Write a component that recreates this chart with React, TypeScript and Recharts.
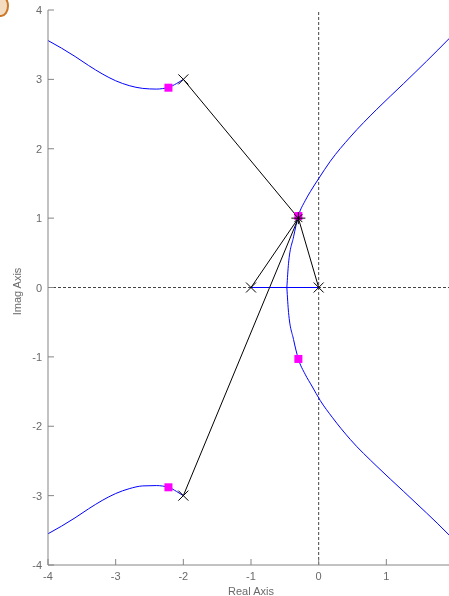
import React from 'react';
import { ComposedChart, Line, Scatter, XAxis, YAxis, ReferenceLine } from 'recharts';

const xTicks = [-4, -3, -2, -1, 0, 1];
const yTicks = [-4, -3, -2, -1, 0, 1, 2, 3, 4];

const upperLeftBranch = [
  { x: -4.0, y: 3.56 }, { x: -3.8, y: 3.45 }, { x: -3.6, y: 3.33 }, { x: -3.4, y: 3.2 },
  { x: -3.2, y: 3.08 }, { x: -3.0, y: 2.98 }, { x: -2.8, y: 2.91 }, { x: -2.6, y: 2.87 },
  { x: -2.4, y: 2.86 }, { x: -2.22, y: 2.885 }, { x: -2.1, y: 2.94 }, { x: -2.0, y: 3.0 },
];
const lowerLeftBranch = [
  { x: -4.0, y: -3.55 }, { x: -3.8, y: -3.44 }, { x: -3.6, y: -3.32 }, { x: -3.4, y: -3.19 },
  { x: -3.2, y: -3.07 }, { x: -3.0, y: -2.97 }, { x: -2.8, y: -2.9 }, { x: -2.6, y: -2.86 },
  { x: -2.4, y: -2.855 }, { x: -2.22, y: -2.88 }, { x: -2.1, y: -2.94 }, { x: -2.0, y: -3.0 },
];
const upperRightBranch = [
  { x: -0.47, y: 0 }, { x: -0.445, y: 0.35 }, { x: -0.371, y: 0.73 }, { x: -0.3, y: 1.03 },
  { x: -0.2, y: 1.25 }, { x: -0.124, y: 1.38 }, { x: 0, y: 1.57 }, { x: 0.172, y: 1.82 },
  { x: 0.467, y: 2.17 }, { x: 0.86, y: 2.57 }, { x: 1.256, y: 2.94 }, { x: 1.93, y: 3.59 },
  { x: 2.0, y: 3.66 },
];
const lowerRightBranch = [
  { x: -0.47, y: 0 }, { x: -0.445, y: -0.36 }, { x: -0.371, y: -0.75 }, { x: -0.3, y: -1.03 },
  { x: -0.2, y: -1.25 }, { x: -0.1, y: -1.42 }, { x: 0.024, y: -1.63 }, { x: 0.2, y: -1.87 },
  { x: 0.467, y: -2.19 }, { x: 0.862, y: -2.58 }, { x: 1.256, y: -2.94 }, { x: 1.93, y: -3.57 },
  { x: 2.0, y: -3.64 },
];
const realSegment = [{ x: -1, y: 0 }, { x: 0, y: 0 }];

const testPoint = { x: -0.3, y: 1.0 };
const poles = [{ x: -2, y: 3 }, { x: -2, y: -3 }, { x: -1, y: 0 }, { x: 0, y: 0 }];
const gainPoints = [{ x: -2.22, y: 2.88 }, { x: -2.22, y: -2.88 }, { x: -0.3, y: 1.03 }, { x: -0.3, y: -1.03 }];

const vectors = poles.map((p) => [p, testPoint]);

const AXIS = '#858585';
const TEXT = '#6a6a6a';
const FONT = '"Liberation Sans", Arial, sans-serif';

const Empty = () => <g />;

const XMark = (props: any) => {
  const { cx, cy } = props;
  const s = 5;
  return (
    <g stroke="#000" strokeWidth={1}>
      <line x1={cx - s} y1={cy + s} x2={cx + s} y2={cy - s} />
      <line x1={cx - s} y1={cy - s} x2={cx + s} y2={cy + s} />
    </g>
  );
};

const StarMark = (props: any) => {
  const { cx, cy } = props;
  const s = 6;
  return (
    <g stroke="#000" strokeWidth={1}>
      <line x1={cx - s - 1} y1={cy} x2={cx + s + 1} y2={cy} />
      <line x1={cx} y1={cy - s} x2={cx} y2={cy + s} />
      <line x1={cx - 4} y1={cy - 4} x2={cx + 4} y2={cy + 4} />
      <line x1={cx - 4} y1={cy + 4} x2={cx + 4} y2={cy - 4} />
    </g>
  );
};

const SquareMark = (props: any) => {
  const { cx, cy } = props;
  return <rect x={cx - 4} y={cy - 4} width={8} height={8} fill="#ff00ff" />;
};

const BottomTick = (props: any) => {
  const { x, y, payload } = props;
  return (
    <g>
      <line x1={x} y1={y} x2={x} y2={y - 6} stroke={AXIS} />
      <text x={x} y={y + 15} textAnchor="middle" fill={TEXT} fontSize={11} fontFamily={FONT}>
        {payload.value}
      </text>
    </g>
  );
};
const TopTick = (props: any) => {
  const { x, y } = props;
  return <line x1={x} y1={y} x2={x} y2={y + 6} stroke={AXIS} />;
};
const LeftTick = (props: any) => {
  const { x, y, payload } = props;
  return (
    <g>
      <line x1={x} y1={y} x2={x + 6} y2={y} stroke={AXIS} />
      <text x={x - 6} y={y + 4} textAnchor="end" fill={TEXT} fontSize={11} fontFamily={FONT}>
        {payload.value}
      </text>
    </g>
  );
};
const RightTick = (props: any) => {
  const { x, y } = props;
  return <line x1={x} y1={y} x2={x - 6} y2={y} stroke={AXIS} />;
};

const XLabel = (props: any) => {
  const vb = props.viewBox;
  return (
    <text x={vb.x + vb.width / 2} y={vb.y + 30} textAnchor="middle" fill={TEXT} fontSize={11} fontFamily={FONT}>
      Real Axis
    </text>
  );
};
const YLabel = (props: any) => {
  const vb = props.viewBox;
  const cx = 10;
  const cy = vb.y + vb.height / 2 + 4;
  return (
    <text x={cx} y={cy} textAnchor="middle" dominantBaseline="middle" transform={`rotate(-90 ${cx} ${cy})`} fill={TEXT} fontSize={11} fontFamily={FONT}>
      Imag Axis
    </text>
  );
};

export default function App() {
  return (
    <div style={{ position: 'fixed', left: 8, top: 8, width: 460, height: 588 }}>
      <style>{`html{overflow:hidden;} .recharts-surface{overflow:visible;}`}</style>
      <div style={{ position: 'fixed', left: -7, top: -5, width: 12, height: 18, borderRadius: '50%', border: '2px solid #c9782a', background: '#f3dcc0' }} />
      <ComposedChart width={460} height={588} margin={{ top: 2, right: 14, left: 0, bottom: 0 }}>
        <XAxis xAxisId={0} type="number" dataKey="x" domain={[-4, 2]} ticks={xTicks} allowDataOverflow
          height={31} stroke={AXIS} tickLine={false} tickSize={0} tickMargin={0} tick={<BottomTick />}
          interval={0} label={<XLabel />} />
        <XAxis xAxisId="top" orientation="top" type="number" dataKey="x" domain={[-4, 2]} ticks={xTicks} allowDataOverflow
          height={0} stroke={AXIS} tickLine={false} tickSize={0} tickMargin={0} tick={<TopTick />} interval={0} />
        <YAxis yAxisId={0} type="number" dataKey="y" domain={[-4, 4]} ticks={yTicks} allowDataOverflow
          width={40} stroke={AXIS} tickLine={false} tickSize={0} tickMargin={0} tick={<LeftTick />}
          interval={0} label={<YLabel />} />
        <YAxis yAxisId="right" orientation="right" type="number" dataKey="y" domain={[-4, 4]} ticks={yTicks} allowDataOverflow
          width={0} stroke={AXIS} tickLine={false} tickSize={0} tickMargin={0} tick={<RightTick />} interval={0} />
        <ReferenceLine x={0} stroke="#444" strokeDasharray="3 2" />
        <ReferenceLine y={0} stroke="#444" strokeDasharray="3 2" />
        {[upperLeftBranch, lowerLeftBranch, upperRightBranch, lowerRightBranch, realSegment].map((d, i) => (
          <Line key={'b' + i} data={d} dataKey="y" type="monotone" stroke="#0000ff" strokeWidth={1}
            dot={false} activeDot={false} isAnimationActive={false} legendType="none" />
        ))}
        {vectors.map((d, i) => (
          <Scatter key={'v' + i} data={d} line={{ stroke: '#000', strokeWidth: 1 }} lineType="joint"
            shape={<Empty />} isAnimationActive={false} legendType="none" />
        ))}
        <Scatter data={gainPoints} shape={<SquareMark />} isAnimationActive={false} legendType="none" />
        <Scatter data={poles} shape={<XMark />} isAnimationActive={false} legendType="none" />
        <Scatter data={[testPoint]} shape={<StarMark />} isAnimationActive={false} legendType="none" />
      </ComposedChart>
    </div>
  );
}
